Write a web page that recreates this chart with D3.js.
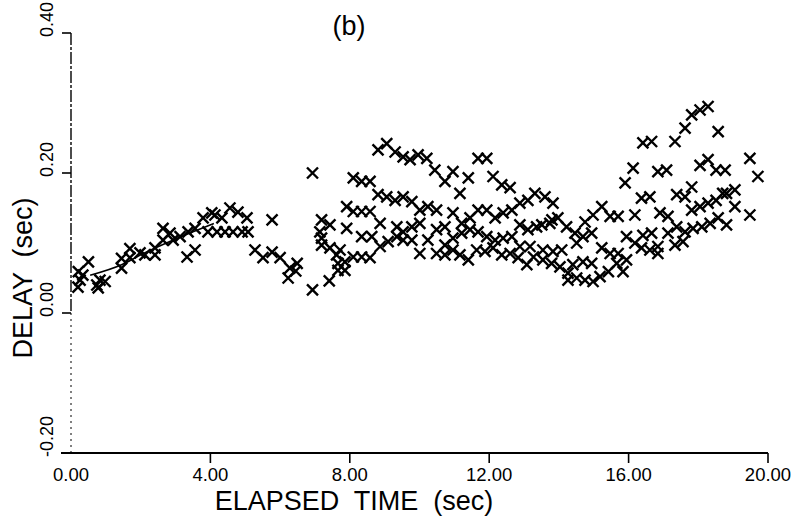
<!DOCTYPE html>
<html>
<head>
<meta charset="utf-8">
<script src="https://cdn.jsdelivr.net/npm/d3@7"></script>
<style>
  html, body { margin: 0; padding: 0; background: #fff; }
  svg { display: block; }
  text { font-family: "Liberation Sans", Arial, Helvetica, sans-serif; fill: #000; white-space: pre; }
</style>
</head>
<body>
<svg id="chart" width="808" height="516"></svg>
<script>
// ---- data (elapsed time in sec, delay in sec) ----
const times = [
  0.21,0.50,0.26,0.20,0.34,0.74,0.98,0.83,0.78,1.45,1.45,1.69,1.69,1.98,2.12,2.41,2.41,2.64,2.84,2.64,
  2.93,3.13,3.36,3.56,3.33,3.56,3.79,4.04,4.13,4.33,4.56,4.79,5.05,3.93,4.19,4.42,4.65,4.91,5.08,5.77,
  5.28,5.51,5.77,6.00,6.28,6.49,6.23,6.45,
  6.93,6.93,7.41,7.19,7.43,7.19,7.19,7.14,7.91,7.91,8.10,8.34,8.58,8.81,9.06,9.30,9.53,9.73,9.96,10.21,
  10.44,10.73,10.96,11.16,11.40,11.68,11.93,12.11,12.36,12.60,8.10,8.34,8.58,8.81,9.06,9.30,9.53,9.78,
  10.01,10.24,10.49,10.96,11.21,11.45,11.68,11.93,12.17,12.40,12.65,12.88,13.11,13.31,7.43,7.62,7.66,7.86,
  7.86,7.66,7.72,8.10,8.34,8.58,8.34,8.63,8.87,9.10,9.35,9.53,9.78,10.01,9.35,8.87,9.53,9.78,10.01,10.24,
  10.49,10.73,10.73,10.96,11.21,11.45,11.68,11.93,12.17,12.40,12.65,12.88,13.11,13.36,10.49,10.73,10.96,
  11.16,11.40,11.64,11.88,12.11,12.36,12.60,12.83,13.08,13.27,12.88,13.17,
  17.81,18.05,18.28,17.62,17.33,18.57,16.41,16.66,19.48,19.71,19.48,16.13,15.90,16.84,17.09,18.05,18.28,
  18.51,18.77,17.81,17.38,17.62,16.37,16.61,18.81,19.05,19.05,17.81,18.05,18.28,18.51,18.70,16.90,17.13,
  16.18,15.70,15.47,15.23,14.98,14.75,17.38,17.62,17.85,18.10,18.34,18.57,18.81,17.13,15.94,16.18,16.41,
  16.66,16.37,16.61,16.84,16.84,17.33,17.56,15.23,15.47,15.70,15.94,15.66,15.42,15.18,14.98,14.75,14.51,
  14.26,14.40,14.69,14.94,14.03,13.79,13.54,13.54,13.83,14.08,14.51,14.69,14.94,14.46,14.22,13.97,13.74,
  13.51,13.83,13.60,13.80,14.26,15.84
];
const delays = [
  0.059,0.073,0.047,0.037,0.054,0.040,0.045,0.047,0.036,0.078,0.064,0.092,0.079,0.086,0.083,0.093,0.083,0.121,0.114,0.104,
  0.104,0.109,0.116,0.121,0.080,0.090,0.136,0.143,0.140,0.136,0.150,0.144,0.136,0.116,0.116,0.116,0.116,0.116,0.116,0.133,
  0.090,0.079,0.087,0.079,0.064,0.071,0.050,0.060,
  0.200,0.033,0.046,0.133,0.126,0.107,0.097,0.116,0.121,0.152,0.193,0.188,0.188,0.233,0.242,0.230,0.223,0.219,0.226,0.221,
  0.204,0.188,0.202,0.171,0.193,0.221,0.221,0.195,0.183,0.179,0.145,0.145,0.145,0.169,0.166,0.161,0.166,0.159,
  0.147,0.152,0.147,0.143,0.128,0.136,0.147,0.147,0.136,0.143,0.147,0.157,0.161,0.171,0.093,0.083,0.071,0.073,
  0.061,0.061,0.090,0.080,0.080,0.079,0.109,0.109,0.095,0.102,0.109,0.116,0.123,0.128,0.123,0.128,0.104,0.104,0.085,0.104,
  0.119,0.123,0.097,0.107,0.114,0.119,0.116,0.109,0.104,0.107,0.109,0.126,0.119,0.123,0.085,0.083,0.090,
  0.083,0.076,0.090,0.088,0.093,0.083,0.085,0.079,0.069,0.080,0.095,0.095,
  0.283,0.290,0.295,0.264,0.245,0.259,0.243,0.245,0.221,0.195,0.140,0.207,0.186,0.202,0.204,0.211,0.219,
  0.204,0.204,0.180,0.169,0.166,0.164,0.166,0.171,0.176,0.152,0.147,0.152,0.157,0.161,0.171,0.143,0.138,
  0.140,0.138,0.138,0.152,0.140,0.130,0.123,0.116,0.121,0.123,0.128,0.136,0.126,0.114,0.109,0.100,0.111,
  0.114,0.093,0.090,0.095,0.085,0.097,0.102,0.093,0.085,0.085,0.076,0.071,0.059,0.052,0.045,0.047,0.050,
  0.057,0.069,0.073,0.071,0.066,0.071,0.076,0.090,0.088,0.090,0.100,0.109,0.114,0.114,0.123,0.136,0.128,
  0.126,0.157,0.166,0.133,0.047,0.059
];
// smooth trend drawn through the start of the record
const fitTimes  = [0.55, 1.45, 2.00, 3.50, 4.10];
const fitDelays = [0.054, 0.069, 0.083, 0.116, 0.128];

const xTicks = [0, 4, 8, 12, 16, 20];
const yTicks = [-0.2, 0, 0.2, 0.4];
const title = "(b)";
const xTitle = "ELAPSED  TIME  (sec)";
const yTitle = "DELAY  (sec)";

// ---- drawing ----
const svg = d3.select("#chart");
const x = d3.scaleLinear().domain([0, 20]).range([71, 768]);
const y = d3.scaleLinear().domain([-0.2, 0.4]).range([453, 33]);
const fmt = v => d3.format(".2f")(v).replace("\u2212", "-");

// x axis
const xAxisG = svg.append("g").attr("transform", `translate(0,${y(-0.2)})`);
xAxisG.append("line")
  .attr("x1", x(0) - 10).attr("x2", x(20))
  .attr("y1", 0).attr("y2", 0)
  .attr("stroke", "#000").attr("stroke-width", 1.8);
xAxisG.selectAll("line.tick").data(xTicks.filter(d => d !== 0)).join("line")
  .attr("class", "tick")
  .attr("x1", d => x(d)).attr("x2", d => x(d))
  .attr("y1", 0).attr("y2", 10)
  .attr("stroke", "#000").attr("stroke-width", 1.6);
xAxisG.selectAll("text").data(xTicks).join("text")
  .attr("x", d => x(d)).attr("y", 28)
  .attr("text-anchor", "middle")
  .attr("font-size", 18.5)
  .text(fmt);

// y axis (broken / dashed line as in the scan)
svg.append("line")
  .attr("x1", x(0)).attr("x2", x(0))
  .attr("y1", y(0.4)).attr("y2", y(0))
  .attr("stroke", "#000").attr("stroke-width", 1.4)
  .attr("stroke-dasharray", "12,2,3,2");
svg.append("line")
  .attr("x1", x(0)).attr("x2", x(0))
  .attr("y1", y(0)).attr("y2", y(-0.2))
  .attr("stroke", "#000").attr("stroke-width", 1)
  .attr("stroke-dasharray", "2,4");
svg.selectAll("line.ytick").data(yTicks).join("line")
  .attr("class", "ytick")
  .attr("x1", x(0) - 9).attr("x2", x(0))
  .attr("y1", d => y(d)).attr("y2", d => y(d))
  .attr("stroke", "#000").attr("stroke-width", 1.6);
svg.selectAll("text.ylab").data(yTicks).join("text")
  .attr("class", "ylab")
  .attr("transform", d => `translate(53,${y(d) + 4}) rotate(-90)`)
  .attr("text-anchor", "start")
  .attr("font-size", 18)
  .text(fmt);

// titles
svg.append("text")
  .attr("x", 349).attr("y", 35)
  .attr("text-anchor", "middle")
  .attr("font-size", 27)
  .text(title);
svg.append("text")
  .attr("x", 354).attr("y", 510)
  .attr("text-anchor", "middle")
  .attr("font-size", 27)
  .text(xTitle);
svg.append("text")
  .attr("transform", "translate(32,278) rotate(-90)")
  .attr("text-anchor", "middle")
  .attr("font-size", 27)
  .text(yTitle);

// trend line
const fitData = fitTimes.map((t, i) => [t, fitDelays[i]]);
svg.append("path")
  .datum(fitData)
  .attr("fill", "none").attr("stroke", "#000").attr("stroke-width", 1.6)
  .attr("d", d3.line().x(d => x(d[0])).y(d => y(d[1])).curve(d3.curveMonotoneX));

// X markers
const pts = times.map((t, i) => [t, delays[i]]);
const r = 5.5;
svg.append("g").selectAll("path").data(pts).join("path")
  .attr("d", d => {
    const cx = x(d[0]), cy = y(d[1]);
    return `M${cx - r},${cy - r}L${cx + r},${cy + r}M${cx - r},${cy + r}L${cx + r},${cy - r}`;
  })
  .attr("fill", "none").attr("stroke", "#000").attr("stroke-width", 2.4);
</script>
</body>
</html>
